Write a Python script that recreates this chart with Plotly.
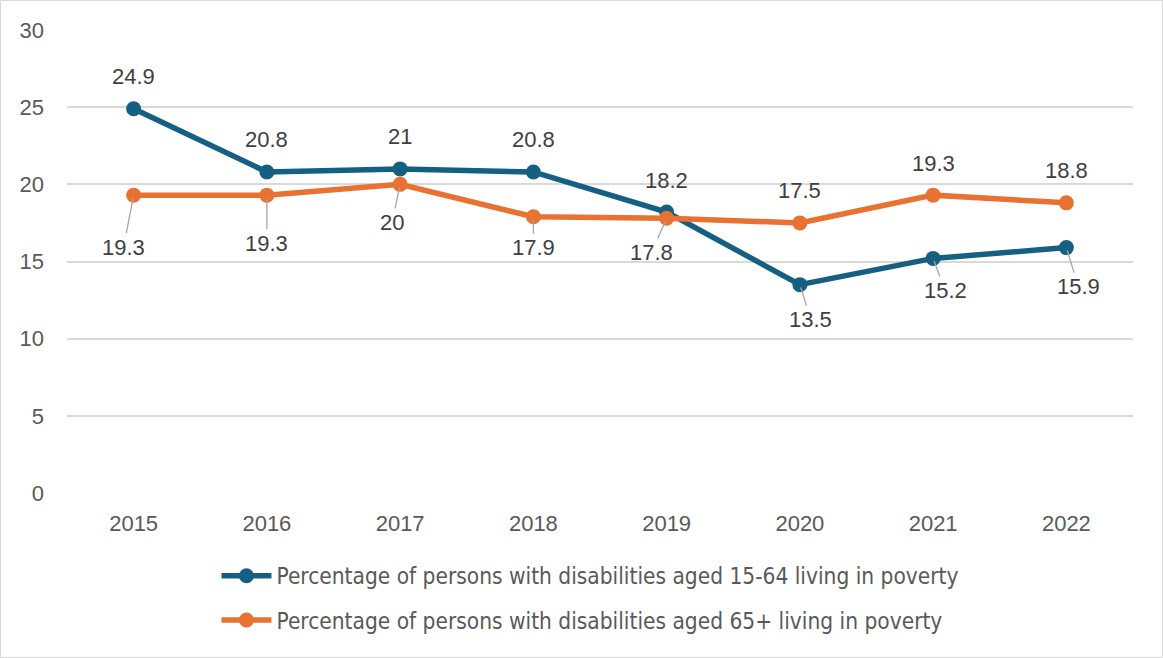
import plotly.graph_objects as go

# Poverty rates among persons with disabilities, by age group (%)
years = ["2015", "2016", "2017", "2018", "2019", "2020", "2021", "2022"]
aged_15_64 = [24.9, 20.8, 21, 20.8, 18.2, 13.5, 15.2, 15.9]
aged_65_plus = [19.3, 19.3, 20, 17.9, 17.8, 17.5, 19.3, 18.8]
y_ticks = [0, 5, 10, 15, 20, 25, 30]

name_15_64 = "Percentage of persons with disabilities aged 15-64 living in poverty"
name_65_plus = "Percentage of persons with disabilities aged 65+ living in poverty"

BLUE = "#156082"
ORANGE = "#E97132"
GRID = "#d9d9d9"
TEXT = "#595959"
LABEL = "#404040"
LEADER = "#a6a6a6"
BASE_FONT = "Liberation Sans, Arial, sans-serif"
NARROW_FONT = "DejaVu Sans Condensed, Liberation Sans Narrow, Arial Narrow, Liberation Sans, sans-serif"

W, H = 1163, 658
ML, MR, MT, MB = 67, 30, 30, 165

# Label placement per point: None = above the marker, (dx, dy) = offset below with a leader line
place_15_64 = [None, None, None, None, None, (11, 35), (12, 32), (12, 39)]
place_65_plus = [(-10, 52), (0, 48), (-8, 38), (0, 31), (-15, 34), None, None, None]

fig = go.Figure()
for vals, name, color in [(aged_15_64, name_15_64, BLUE), (aged_65_plus, name_65_plus, ORANGE)]:
    fig.add_trace(go.Scatter(
        x=years, y=vals, name=name, legendgroup=name, mode="lines+markers",
        line=dict(color=color, width=5.5),
        marker=dict(color=color, size=15),
    ))

annotations = []
for vals, places in [(aged_15_64, place_15_64), (aged_65_plus, place_65_plus)]:
    for i, (v, p) in enumerate(zip(vals, places)):
        txt = f"{v:g}"
        font = dict(family=BASE_FONT, size=22, color=LABEL)
        # category axis: annotations are positioned by category index
        if p is None:
            annotations.append(dict(
                x=i, y=v, xref="x", yref="y", text=txt, showarrow=False, yshift=32, font=font,
            ))
        else:
            annotations.append(dict(
                x=i, y=v, xref="x", yref="y", axref="pixel", ayref="pixel",
                text=txt, showarrow=True, ax=p[0], ay=p[1],
                arrowhead=0, arrowwidth=1.3, arrowcolor=LEADER,
                standoff=3, font=font,
            ))

pw = W - ML - MR
ph = H - MT - MB
fig.add_shape(
    type="rect", xref="paper", yref="paper", layer="above",
    x0=(0.5 - ML) / pw, x1=(W - 0.5 - ML) / pw,
    y0=-(MB - 0.5) / ph, y1=(H - MB - 0.5) / ph,
    line=dict(color=GRID, width=1), fillcolor="rgba(0,0,0,0)",
)

fig.update_layout(
    width=W, height=H,
    margin=dict(l=ML, r=MR, t=MT, b=MB),
    paper_bgcolor="white", plot_bgcolor="white",
    font=dict(family=BASE_FONT, size=20, color=TEXT),
    annotations=annotations,
    showlegend=True,
    legend=dict(
        orientation="v", x=0.4906, xanchor="center", y=-0.133, yanchor="top",
        font=dict(family=NARROW_FONT, size=22.5, color=TEXT),
        tracegroupgap=12, itemwidth=50,
    ),
    xaxis=dict(
        type="category", categoryorder="array", categoryarray=years,
        range=[-0.5, len(years) - 0.5], autorange=False,
        showgrid=False, showline=False, zeroline=False,
        ticks="", ticklabelstandoff=15,
        tickfont=dict(size=22, color=TEXT),
    ),
    yaxis=dict(
        range=[0, 30], autorange=False, tickvals=y_ticks, ticktext=[str(t) for t in y_ticks],
        showgrid=True, gridcolor=GRID, gridwidth=1.5,
        zeroline=False, showline=False, ticks="",
        ticklabelstandoff=22,
        tickfont=dict(size=22, color=TEXT),
    ),
)

fig.write_html("out.html")
